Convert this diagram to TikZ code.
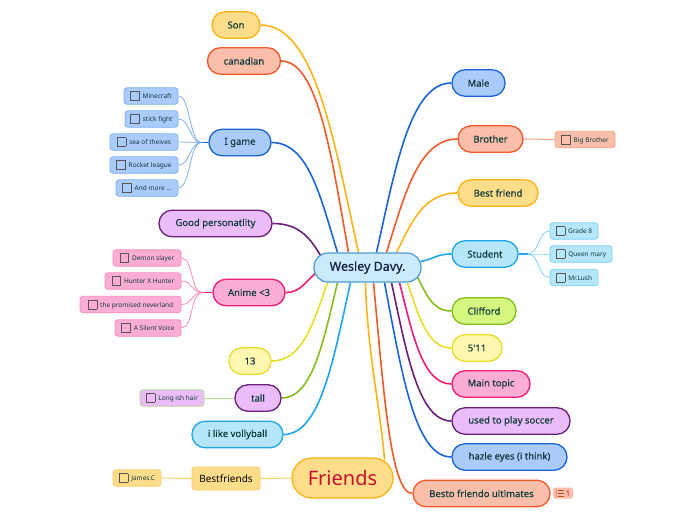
\documentclass[tikz,border=0pt]{standalone}
\usepackage{fontspec}
\setmainfont{Noto Sans}
\newfontfamily\medfont{Noto Sans}[FakeBold=0.35]
\newfontfamily\semifont{Noto Sans}[FakeBold=0.9]
\usetikzlibrary{calc,backgrounds}
\definecolor{cenF}{HTML}{CBEBFB}\definecolor{cenD}{HTML}{4A9BD6}\definecolor{cenT}{HTML}{16254A}
\definecolor{txt}{HTML}{0F3A3A}
\definecolor{bluF}{HTML}{A9CCFC}\definecolor{bluD}{HTML}{1B64D8}\definecolor{bluS}{HTML}{7EB0F2}
\definecolor{oraF}{HTML}{F9BFAB}\definecolor{oraD}{HTML}{F15A29}\definecolor{oraS}{HTML}{F7A488}
\definecolor{yelF}{HTML}{FDDC8A}\definecolor{yelD}{HTML}{FBB415}\definecolor{yelS}{HTML}{FCCF68}
\definecolor{lbF}{HTML}{B5E6FB}\definecolor{lbD}{HTML}{1EA6EC}\definecolor{lbS}{HTML}{7ACFF5}
\definecolor{grnF}{HTML}{D6F77F}\definecolor{grnD}{HTML}{84BD1C}\definecolor{grnS}{HTML}{B8D88A}
\definecolor{ylF}{HTML}{FEF7B0}\definecolor{ylD}{HTML}{EBDC2A}
\definecolor{pnkF}{HTML}{FCADD3}\definecolor{pnkD}{HTML}{EE1C74}\definecolor{pnkS}{HTML}{F98BBE}
\definecolor{purF}{HTML}{EABDFA}\definecolor{purD}{HTML}{6B1F7B}
\definecolor{chkC}{HTML}{555555}\definecolor{frT}{HTML}{C8102E}\definecolor{noteT}{HTML}{C8451E}
\newcommand\chkbox{\textcolor{chkC}{\setlength\fboxsep{0pt}\setlength\fboxrule{0.7pt}\raisebox{-1.2pt}{\fbox{\rule{0pt}{8pt}\hspace{8pt}}}}\hspace{3pt}}
\tikzset{
  cen/.style={fill=cenF,draw=cenD,line width=1.2pt,rounded corners=14pt,minimum width=107pt,minimum height=29pt,inner sep=0pt,text=cenT,font=\semifont\fontsize{12.5}{14}\selectfont},
  br/.style 2 args={fill=#1,draw=#2,line width=1.3pt,rounded corners=13pt,minimum height=26.5pt,inner sep=0pt,text=txt,font=\medfont\fontsize{9.5}{11}\selectfont},
  sub/.style 2 args={fill=#1,draw=#2,line width=0.8pt,rounded corners=3pt,minimum height=16.5pt,inner sep=0pt,text=txt,font=\fontsize{6.5}{8}\selectfont},
  ln/.style={draw=#1,line width=1.6pt},
  sl/.style={draw=#1,line width=0.8pt},
}
\begin{document}
\begin{tikzpicture}[x=1pt,y=-1pt]
\useasboundingbox (0,0) rectangle (696,520);
% centre
\node[cen] (c) at (367.5,267.5) {Wesley Davy.};
% left main
\node[br={yelF}{yelD},minimum width=48pt] (son) at (236,25) {Son};
\node[br={oraF}{oraD},minimum width=73pt] (can) at (244,61) {canadian};
\node[br={bluF}{bluD},minimum width=62pt] (ig) at (240,142.5) {I game};
\node[br={purF}{purD},minimum width=113pt] (gp) at (215.5,223.5) {Good personatlity};
\node[br={pnkF}{pnkD},minimum width=72pt] (an) at (249,292.5) {Anime <3};
\node[br={ylF}{ylD},minimum width=42pt] (t13) at (250,361) {13};
\node[br={purF}{purD},minimum width=46pt] (tall) at (258,398) {tall};
\node[br={lbF}{lbD},minimum width=91pt] (vb) at (237.5,434.5) {i like vollyball};
\node[br={yelF}{yelD},minimum width=101pt,minimum height=40pt,rounded corners=20pt,text=frT,font=\fontsize{20}{22}\selectfont] (fr) at (342.5,478) {Friends};
\node[fill=yelF,draw=yelS,line width=0.8pt,rounded corners=3pt,minimum width=68pt,minimum height=23pt,inner sep=0pt,font=\fontsize{10}{12}\selectfont] (bfs) at (226,478.5) {Bestfriends};
% right main
\node[br={bluF}{bluD},minimum width=53pt] (male) at (478.5,83) {Male};
\node[br={oraF}{oraD},minimum width=65pt] (bro) at (490.5,139) {Brother};
\node[br={yelF}{yelD},minimum width=80pt] (bf) at (498,193) {Best friend};
\node[br={lbF}{lbD},minimum width=66pt] (st) at (485,254) {Student};
\node[br={grnF}{grnD},minimum width=64pt] (cl) at (484,311) {Clifford};
\node[br={ylF}{ylD},minimum width=50pt] (h511) at (477,348) {5'11};
\node[br={pnkF}{pnkD},minimum width=78pt] (mt) at (491,384) {Main topic};
\node[br={purF}{purD},minimum width=118pt] (soc) at (511,421) {used to play soccer};
\node[br={bluF}{bluD},minimum width=115pt] (hz) at (509.5,457) {hazle eyes (i think)};
\node[br={oraF}{oraD},minimum width=137pt] (besto) at (481.5,493.5) {Besto friendo ultimates};
% sub nodes
\node[sub={bluF}{bluS},minimum width=54pt] (mc) at (151,96) {\chkbox Minecraft};
\node[sub={bluF}{bluS},minimum width=53pt] (sf) at (151.5,119) {\chkbox stick fight};
\node[sub={bluF}{bluS},minimum width=68pt] (sot) at (144,142) {\chkbox sea of theives};
\node[sub={bluF}{bluS},minimum width=68pt] (rl) at (144,165) {\chkbox Rocket league};
\node[sub={bluF}{bluS},minimum width=62pt] (am) at (147,188) {\chkbox And more ...};
\node[sub={pnkF}{pnkS},minimum width=68pt] (ds) at (147,258) {\chkbox Demon slayer};
\node[sub={pnkF}{pnkS},minimum width=76pt] (hxh) at (143,281) {\chkbox Hunter X Hunter};
\node[sub={pnkF}{pnkS},minimum width=101pt] (tpn) at (130.5,304.5) {\chkbox the promised neverland};
\node[sub={pnkF}{pnkS},minimum width=66pt] (asv) at (148,328) {\chkbox A Silent Voice};
\node[sub={lbF}{lbS},minimum width=48pt] (g8) at (574,231) {\chkbox Grade 8};
\node[sub={lbF}{lbS},minimum width=62pt] (qm) at (581,254) {\chkbox Queen mary};
\node[sub={lbF}{lbS},minimum width=48pt] (ml) at (574,277.5) {\chkbox Mr.Lush};
\node[sub={oraF}{oraS},minimum width=60pt] (bb) at (585,139.5) {\chkbox Big Brother};
\node[sub={purF}{grnS},minimum width=64pt] (lh) at (172,398) {\chkbox Long ish hair};
\node[sub={yelF}{yelS},minimum width=48pt] (jc) at (137,478) {\chkbox James.C};
% note icon
\node[fill=oraF,rounded corners=2pt,minimum width=20pt,minimum height=11pt,inner sep=0pt,text=noteT,font=\medfont\fontsize{7}{8}\selectfont] (note) at (563,493) {\hspace{10pt}1};
\foreach \d in {-3,0,3}{
  \fill[noteT] ($(note.west)+(3.5,\d)$) circle (0.7pt);
  \draw[noteT,line width=0.9pt] ($(note.west)+(5.5,\d)$) -- ++(5.5,0);
}
\begin{pgfonlayer}{background}
\fill[white] (0,0) rectangle (696,520);
% left top
\draw[ln=yelD] ($(c.north)+(-9,0)$) .. controls +(-25,-114) and +(54,0) .. (son.east);
\draw[ln=oraD] ($(c.north)+(-19,0)$) .. controls +(-17,-96) and +(37,0) .. (can.east);
\draw[ln=bluD] ($(c.north)+(-30,0)$) .. controls +(-17,-55) and +(37,0) .. (ig.east);
\draw[ln=purD] ($(c.west)+(8,-10.5)$) .. controls +(-10,-17) and +(28,0) .. (gp.east);
\draw[ln=pnkD] ($(c.west)+(2,6)$) .. controls +(-10,8) and +(15,0) .. (an.east);
% left bottom
\draw[ln=ylD] ($(c.south)+(-40,0)$) .. controls +(-14,40) and +(31,0) .. (t13.east);
\draw[ln=grnD] ($(c.south)+(-30,0)$) .. controls +(-14,58) and +(31,0) .. (tall.east);
\draw[ln=lbD] ($(c.south)+(-17,0)$) .. controls +(-17,76) and +(37,0) .. (vb.east);
\draw[ln=yelD] ($(c.south)+(-2,0)$) .. controls +(1.5,68) and +(-2.5,-41) .. ($(fr.north)+(42,3)$);
% right top
\draw[ln=bluD] ($(c.north)+(9,0)$) .. controls +(19,-85) and +(-41,0) .. (male.west);
\draw[ln=oraD] ($(c.north)+(19,0)$) .. controls +(18,-57) and +(-39,0) .. (bro.west);
\draw[ln=yelD] ($(c.north)+(29,0)$) .. controls +(15,-30) and +(-34,0) .. (bf.west);
\draw[ln=lbD] ($(c.east)+(-1,-6)$) .. controls +(15,-3) and +(-15,0) .. (st.west);
% right bottom
\draw[ln=grnD] ($(c.east)+(-4,10)$) .. controls +(9,17) and +(-19,0) .. (cl.west);
\draw[ln=ylD] ($(c.south)+(40,0)$) .. controls +(11,33) and +(-24,0) .. (h511.west);
\draw[ln=pnkD] ($(c.south)+(32,0)$) .. controls +(13,51) and +(-29,0) .. (mt.west);
\draw[ln=purD] ($(c.south)+(24,0)$) .. controls +(15,70) and +(-33,0) .. (soc.west);
\draw[ln=bluD] ($(c.south)+(17,0)$) .. controls +(17,88) and +(-37,0) .. (hz.west);
\draw[ln=oraD] ($(c.south)+(6,0)$) .. controls +(10,106) and +(-22,0) .. (besto.west);
% sub branches
\coordinate (j1) at ($(ig.west)+(-7,0)$);
\draw[bluD,line width=1.4pt] (ig.west) -- (j1);
\foreach \n in {mc,sf,sot,rl,am}{\draw[sl=bluS] (j1) .. controls +(-12,0) and +(12,0) .. (\n.east);}
\coordinate (j2) at ($(an.west)+(-10,0)$);
\draw[pnkD,line width=1.4pt] (an.west) -- (j2);
\foreach \n in {ds,hxh,tpn,asv}{\draw[sl=pnkS] (j2) .. controls +(-12,0) and +(12,0) .. (\n.east);}
\coordinate (j3) at ($(st.east)+(9,0)$);
\draw[lbD,line width=1.4pt] (st.east) -- (j3);
\foreach \n in {g8,qm,ml}{\draw[sl=lbS] (j3) .. controls +(12,0) and +(-12,0) .. (\n.west);}
\draw[sl=oraS,line width=1pt] (bro.east) -- (bb.west);
\draw[sl=grnS,line width=1pt] (tall.west) -- (lh.east);
\draw[sl=yelS,line width=1pt] (fr.west) -- (bfs.east);
\draw[sl=yelS,line width=1pt] (bfs.west) -- (jc.east);
\end{pgfonlayer}
\end{tikzpicture}
\end{document}
